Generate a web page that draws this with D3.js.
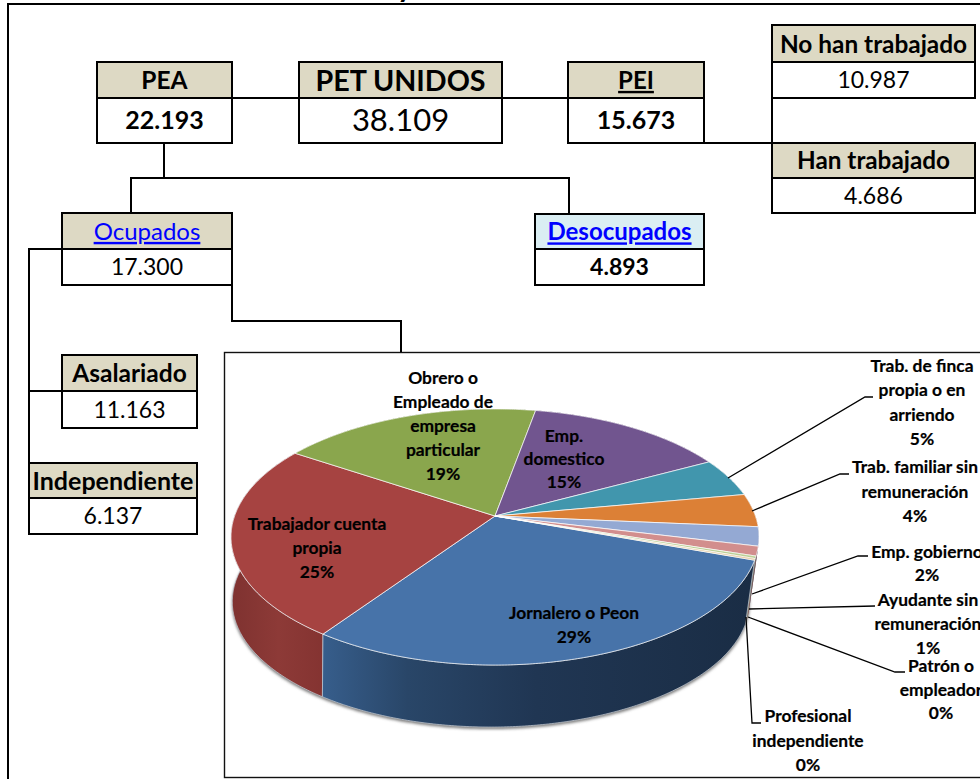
<!DOCTYPE html>
<html>
<head>
<meta charset="utf-8">
<script src="https://cdn.jsdelivr.net/npm/d3@7"></script>
<style>
  html, body { margin: 0; padding: 0; background: #fff; overflow: hidden; }
  svg { display: block; }
  text { font-family: Lato, "Open Sans", sans-serif; fill: #000; }
</style>
</head>
<body>
<svg id="chart" width="980" height="779"></svg>
<script>
// table values
const boxNames = ['PEA', 'PET UNIDOS', 'PEI', 'No han trabajado', 'Han trabajado', 'Ocupados', 'Desocupados', 'Asalariado', 'Independiente']
const boxValues = ['22.193', '38.109', '15.673', '10.987', '4.686', '17.300', '4.893', '11.163', '6.137']

// pie values
const categories = ['Jornalero o Peon', 'Trabajador cuenta propia', 'Obrero o Empleado de empresa particular', 'Emp. domestico',
  'Trab. de finca propia o en arriendo', 'Trab. familiar sin remuneración', 'Emp. gobierno', 'Ayudante sin remuneración',
  'Patrón o empleador', 'Profesional independiente']
const shares = [29.3, 24.6, 18.7, 14.4, 4.9, 4.2, 2.4, 1.2, 0.3, 0.2]
const shareLabels = ['29%', '25%', '19%', '15%', '5%', '4%', '2%', '1%', '0%', '0%']
const labelLines = [
  ['Jornalero o Peon'],
  ['Trabajador cuenta', 'propia'],
  ['Obrero o', 'Empleado de', 'empresa', 'particular'],
  ['Emp.', 'domestico'],
  ['Trab. de finca', 'propia o en', 'arriendo'],
  ['Trab. familiar sin', 'remuneración'],
  ['Emp. gobierno'],
  ['Ayudante sin', 'remuneración'],
  ['Patrón o', 'empleador'],
  ['Profesional', 'independiente']
]
const sliceColors = ['#4773a9', '#a64341', '#8aa64d', '#71558f', '#4196ad', '#dc8036', '#94a9d3', '#d28e8d', '#bccf95', '#e2c79a']

// layout
const boxes = [
  { x: 97, y: 62, w: 135, mid: 98, h: 81, nameSize: 24.5, valueSize: 25, valueBold: true },
  { x: 299, y: 62, w: 203, mid: 98, h: 81, nameSize: 28.7, valueSize: 31 },
  { x: 568, y: 62, w: 136, mid: 98, h: 81, nameSize: 24, valueSize: 25, valueBold: true, underline: true },
  { x: 772, y: 25, w: 203, mid: 62, h: 73, nameSize: 24.4, valueSize: 23 },
  { x: 772, y: 143, w: 203, mid: 178, h: 70, nameSize: 24.3, valueSize: 23 },
  { x: 62, y: 213, w: 170, mid: 249, h: 72, nameSize: 24, valueSize: 23, link: true },
  { x: 535, y: 214, w: 169, mid: 249, h: 71, nameSize: 24, valueSize: 23, valueBold: true, link: true, bold: true, fill: '#daeef3' },
  { x: 62, y: 355, w: 135, mid: 391, h: 73, nameSize: 24.5, valueSize: 23 },
  { x: 29, y: 463, w: 168, mid: 498, h: 71, nameSize: 25, valueSize: 23 }
]
const connectors = [
  [[232, 98], [299, 98]],
  [[502, 98], [568, 98]],
  [[704, 143], [772, 143], [772, 98]],
  [[164, 143], [164, 178]],
  [[131, 213], [131, 178], [569, 178], [569, 214]],
  [[62, 249], [29, 249], [29, 463]],
  [[29, 391], [62, 391]],
  [[232, 285], [232, 321], [401, 321], [401, 352]]
]
const leaders = [
  null, null, null, null,
  [[728, 478], [865, 397], [873, 397]],
  [[752, 511], [840, 474], [849, 474]],
  [[752, 594], [858, 556], [868, 556]],
  [[749, 609], [875, 606]],
  [[748, 617], [895, 672], [905, 672]],
  [[746, 617], [752, 723], [761, 723]]
]
const labelAnchors = [
  { x: 574, y: 613, step: 24 },
  { x: 317, y: 524, step: 24 },
  { x: 443, y: 378, step: 24 },
  { x: 564, y: 436, step: 23 },
  { x: 922, y: 366, step: 24.3 },
  { x: 915, y: 467, step: 24.5 },
  { x: 927, y: 552, step: 23 },
  { x: 928, y: 600, step: 24 },
  { x: 941, y: 666, step: 23.5 },
  { x: 808, y: 716, step: 24.5 }
]

const svg = d3.select('#chart')
const defs = svg.append('defs')

defs.append('filter').attr('id', 'soft').attr('x', '-5%').attr('y', '-5%').attr('width', '110%').attr('height', '110%')
  .append('feGaussianBlur').attr('stdDeviation', 1.8)

const blueSide = defs.append('linearGradient').attr('id', 'side0')
  .attr('gradientUnits', 'userSpaceOnUse').attr('x1', 322).attr('x2', 750).attr('y1', 0).attr('y2', 0)
blueSide.selectAll('stop').data([[0, '#375e8c'], [0.2, '#294668'], [0.5, '#203653'], [1, '#1a2d45']]).enter().append('stop')
  .attr('offset', d => d[0]).attr('stop-color', d => d[1])

const redSide = defs.append('linearGradient').attr('id', 'side1')
  .attr('gradientUnits', 'userSpaceOnUse').attr('x1', 232).attr('x2', 325).attr('y1', 0).attr('y2', 0)
redSide.selectAll('stop').data([[0, '#7f3230'], [0.5, '#8d3a37'], [1, '#843331']]).enter().append('stop')
  .attr('offset', d => d[0]).attr('stop-color', d => d[1])

// outer frame, runs off the page on the right and bottom
svg.append('path').attr('d', 'M8,779V4H980').attr('fill', 'none').attr('stroke', '#000').attr('stroke-width', 2)

// what is left of the cropped title above the frame
svg.append('text').attr('x', 397).attr('y', -3).attr('font-size', 30).attr('font-weight', 700).text('y')

// chart frame
svg.append('rect').attr('x', 224.5).attr('y', 352.5).attr('width', 770).attr('height', 425)
  .attr('fill', '#fff').attr('stroke', '#111').attr('stroke-width', 1.4)

const line = d3.line()
svg.selectAll('.connector').data(connectors).enter().append('path')
  .attr('class', 'connector')
  .attr('d', line).attr('fill', 'none').attr('stroke', '#000').attr('stroke-width', 2)

const box = svg.selectAll('.box').data(boxes).enter().append('g').attr('class', 'box')
box.append('rect')
  .attr('x', d => d.x).attr('y', d => d.y).attr('width', d => d.w).attr('height', d => d.mid - d.y)
  .attr('fill', d => d.fill || '#ddd9c4')
box.append('rect')
  .attr('x', d => d.x).attr('y', d => d.y).attr('width', d => d.w).attr('height', d => d.h)
  .attr('fill', 'none').attr('stroke', '#000').attr('stroke-width', 2)
box.append('line')
  .attr('x1', d => d.x).attr('x2', d => d.x + d.w).attr('y1', d => d.mid).attr('y2', d => d.mid)
  .attr('stroke', '#000').attr('stroke-width', 2)
box.append('text')
  .attr('x', d => d.x + d.w / 2).attr('y', d => (d.y + d.mid) / 2 + d.nameSize * 0.37)
  .attr('text-anchor', 'middle')
  .attr('font-size', d => d.nameSize)
  .attr('font-weight', d => (d.link && !d.bold) ? 400 : 700)
  .attr('text-decoration', d => (d.link || d.underline) ? 'underline' : null)
  .style('fill', d => d.link ? '#0000ff' : '#000')
  .text((d, i) => boxNames[i])
box.append('text')
  .attr('x', d => d.x + d.w / 2).attr('y', d => (d.mid + d.y + d.h) / 2 + d.valueSize * 0.35)
  .attr('text-anchor', 'middle')
  .attr('font-size', d => d.valueSize)
  .attr('font-weight', d => d.valueBold ? 700 : 400)
  .text((d, i) => boxValues[i])

// pie in perspective: the circle is tipped back, so the centre sits above the middle of the ellipse
const cx = 495, cy = 516, halfW = 260.4, halfH = 124.6, tilt = 0.164
const depth = 65, shrink = 0.98, shiftX = -4

function topPoint(a) {
  const u = Math.sin(a), v = -Math.cos(a), w = 1 - tilt * v
  return [cx + halfW * u / w, cy + halfH * v / w]
}
function bottomPoint(a) {
  const p = topPoint(a)
  return [cx + shiftX + (p[0] - cx) * shrink, cy + depth + (p[1] - cy) * shrink]
}
function rim(start, end, fn) {
  const n = Math.max(2, Math.ceil((end - start) / 0.01))
  return d3.range(n + 1).map(i => fn(start + (end - start) * i / n))
}

const startAngle = 109.6 * Math.PI / 180
const arcs = d3.pie().sort(null).startAngle(startAngle).endAngle(startAngle + 2 * Math.PI)(shares)
const closed = d3.line().curve(d3.curveLinearClosed)

const pie = svg.append('g')

// soft shadow along the lower rim
pie.append('path')
  .attr('d', closed(rim(Math.PI / 2, Math.PI * 1.55, bottomPoint).map(p => [p[0], p[1] + 2])))
  .attr('fill', '#777').attr('filter', 'url(#soft)')

const sides = arcs.map((d, i) => ({ d, i })).sort((a, b) =>
  -Math.cos((a.d.startAngle + a.d.endAngle) / 2) + Math.cos((b.d.startAngle + b.d.endAngle) / 2))

pie.selectAll('.side').data(sides).enter().append('path')
  .attr('class', 'side')
  .attr('d', s => closed(rim(s.d.startAngle, s.d.endAngle, topPoint)
    .concat(rim(s.d.startAngle, s.d.endAngle, bottomPoint).reverse())))
  .attr('fill', s => s.i < 2 ? `url(#side${s.i})` : d3.color(sliceColors[s.i]).darker(1.3))
  .attr('stroke', s => s.i < 2 ? '#c4ccd6' : 'none')
  .attr('stroke-width', 0.7)

pie.selectAll('.slice').data(arcs).enter().append('path')
  .attr('class', 'slice')
  .attr('d', d => closed([[cx, cy]].concat(rim(d.startAngle, d.endAngle, topPoint))))
  .attr('fill', (d, i) => sliceColors[i])
  .attr('stroke', '#fff').attr('stroke-opacity', 0.7).attr('stroke-width', 1)
  .attr('stroke-linejoin', 'round')

// leader lines
svg.selectAll('.leader').data(leaders.filter(Boolean)).enter().append('path')
  .attr('class', 'leader')
  .attr('d', line).attr('fill', 'none').attr('stroke', '#000').attr('stroke-width', 1.3)

// slice labels
const label = svg.selectAll('.label').data(categories).enter().append('text')
  .attr('class', 'label')
  .attr('text-anchor', 'middle')
  .attr('font-size', 17.4).attr('font-weight', 700)
  .attr('stroke', '#000').attr('stroke-width', 0.2)

label.each(function (name, i) {
  const a = labelAnchors[i]
  d3.select(this).selectAll('tspan').data(labelLines[i].concat(shareLabels[i])).enter().append('tspan')
    .attr('x', a.x)
    .attr('y', (t, k) => a.y + k * a.step + 6)
    .text(t => t)
})
</script>
</body>
</html>
